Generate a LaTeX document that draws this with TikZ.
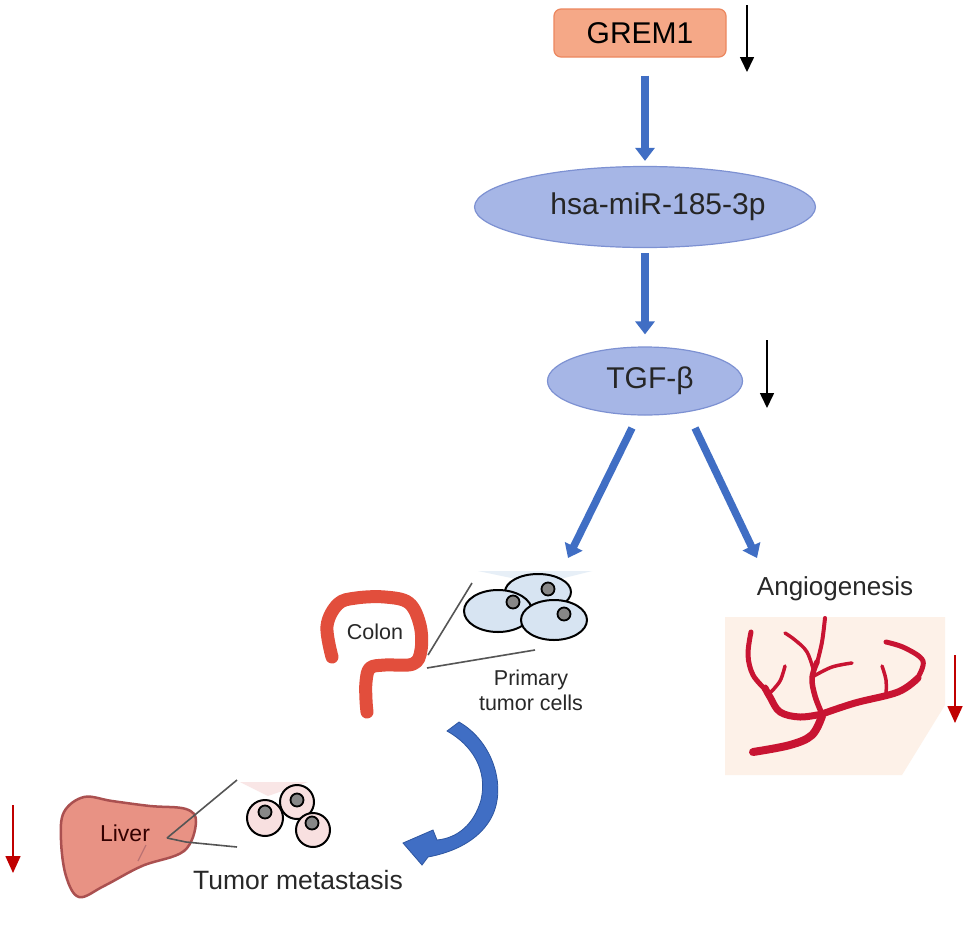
\documentclass[tikz,border=0pt]{standalone}
\usepackage{fontspec}
\setmainfont{Liberation Sans}
\usetikzlibrary{arrows.meta,shapes.geometric,calc}
\definecolor{boxfill}{RGB}{245,168,135}
\definecolor{boxdraw}{RGB}{236,135,95}
\definecolor{ellfill}{RGB}{166,182,230}
\definecolor{elldraw}{RGB}{125,145,210}
\definecolor{arrblue}{RGB}{64,110,196}
\definecolor{arrbluedark}{RGB}{45,85,160}
\definecolor{txt}{RGB}{40,40,40}
\definecolor{colonred}{RGB}{226,78,60}
\definecolor{liverfill}{RGB}{232,146,132}
\definecolor{liverdraw}{RGB}{170,80,80}
\definecolor{vessel}{RGB}{200,20,50}
\definecolor{peach}{RGB}{253,241,232}
\definecolor{downred}{RGB}{192,0,0}
\definecolor{cellblue}{RGB}{215,228,242}
\definecolor{cellpink}{RGB}{248,224,224}
\definecolor{nucleus}{RGB}{135,135,135}
\definecolor{zoomline}{RGB}{85,85,85}
\begin{document}
\begin{tikzpicture}[x=1pt,y=-1pt,
  bluearrow/.style={draw=arrblue,line width=7.5pt,-{Triangle[width=19pt,length=13pt]}},
  blackarrow/.style={draw=black,line width=1.6pt,-{Triangle[width=14pt,length=15pt]}},
  redarrow/.style={draw=downred,line width=1.6pt,-{Triangle[width=15pt,length=17pt]}},
  lbl/.style={text=txt,inner sep=0pt},
  cellb/.style={fill=cellblue,draw=black,line width=2pt},
  cellp/.style={fill=cellpink,draw=black,line width=2pt},
  nuc/.style={fill=nucleus,draw=black,line width=1.8pt},
  zl/.style={draw=zoomline,line width=1.6pt},
  vsl/.style={draw=vessel,line cap=round,line join=round}
]
\useasboundingbox (0,0) rectangle (969,926);
\fill[white] (0,0) rectangle (969,926);

% ---- pathway nodes
\node[draw=boxdraw,fill=boxfill,line width=1.2pt,rounded corners=7pt,minimum width=172pt,minimum height=48pt,inner sep=0pt,font=\fontsize{30}{36}\selectfont,text=black] (grem) at (640,33) {GREM1};
\node[ellipse,draw=elldraw,fill=ellfill,line width=1.2pt,minimum width=302pt,minimum height=81pt,inner sep=0pt,font=\fontsize{30}{36}\selectfont,text=black!85] (mir) at (645,207) {\hspace*{26pt}hsa-miR-185-3p};
\node[ellipse,draw=elldraw,fill=ellfill,line width=1.2pt,minimum width=195pt,minimum height=68pt,inner sep=0pt,font=\fontsize{30}{36}\selectfont,text=black!85] (tgf) at (645,381) {\hspace*{10pt}TGF-β};

\draw[bluearrow,shorten <=18pt,shorten >=5pt] (grem.south -| mir.north) -- (mir.north);
\draw[bluearrow,shorten <=5pt,shorten >=12pt] (mir.south) -- (tgf.north);

\coordinate (ls) at (632,428);
\coordinate (le) at (568,558);
\coordinate (rs) at (695,428);
\coordinate (re) at (757,558);
\draw[bluearrow] (ls) -- (le);
\draw[bluearrow] (rs) -- (re);

% black down arrows
\coordinate (b1s) at (747,5);
\coordinate (b1e) at (747,72);
\draw[blackarrow] (b1s) -- (b1e);
\coordinate (b2s) at (767,340);
\coordinate (b2e) at (767,408);
\draw[blackarrow] (b2s) -- (b2e);

% ---- colon
\fill[cellblue!60] (478,571) -- (592,571) -- (540,584) -- cycle;
\draw[colonred,line width=13pt,line cap=round,line join=round]
  plot[smooth,tension=0.6] coordinates {(332,657) (327,626) (338,604) (356,598) (385,597) (409,603) (420,625) (421,650) (413,664) (385,665) (370,668) (366,682) (366,700) (367,712)};
\draw[zl] (428,655) -- (472,583);
\draw[zl] (427,668) -- (535,650);
\draw[cellb] (538,592) ellipse [x radius=33pt,y radius=18pt];
\draw[cellb] (498,611) ellipse [x radius=34pt,y radius=21pt];
\draw[cellb] (554,620) ellipse [x radius=33pt,y radius=20pt];
\draw[nuc] (513,602) circle [radius=6.5pt];
\draw[nuc] (548,589) circle [radius=6.5pt];
\draw[nuc] (564,614) circle [radius=6.5pt];
\node[lbl,font=\fontsize{21.5}{25}\selectfont] (colon) at (375,632) {Colon};
\node[lbl,font=\fontsize{21.5}{25}\selectfont,align=center] (primary) at (531,690) {Primary\\tumor cells};

% ---- curved arrow
\fill[arrblue,draw=arrbluedark,line width=0.8pt]
  (447,731) -- (459,722)
  .. controls (494,742) and (508,790) .. (490,820)
  .. controls (478,840) and (455,852) .. (428,857)
  -- (422,865) -- (403,843) -- (433,830) -- (437,840)
  .. controls (458,838) and (474,824) .. (481,800)
  .. controls (488,770) and (472,745) .. (447,731) -- cycle;

% ---- liver
\fill[cellpink!80] (240,782) -- (308,782) -- (268,796) -- cycle;
\filldraw[fill=liverfill,draw=liverdraw,line width=2.5pt]
  plot[smooth cycle,tension=0.6] coordinates {(64,812) (84,797) (112,801) (150,806) (186,809) (196,822) (184,851) (142,866) (104,886) (79,897) (66,876) (61,840)};
\draw[liverdraw!80,line width=1.2pt] (146,845) -- (138,861);
\draw[zl] (167,838) -- (237,780);
\draw[zl] (167,838) -- (186,842) -- (237,847);
\draw[cellp] (265,818) circle [radius=18pt];
\draw[cellp] (297,802) circle [radius=17pt];
\draw[cellp] (313,830) circle [radius=17pt];
\draw[nuc] (265,812) circle [radius=6.5pt];
\draw[nuc] (297,800) circle [radius=6.5pt];
\draw[nuc] (312,823) circle [radius=6.5pt];
\node[lbl,font=\fontsize{23}{27}\selectfont,text=black!80!red] (liver) at (125,833) {Liver};
\node[lbl,font=\fontsize{26.5}{30}\selectfont] (meta) at (298,880) {Tumor metastasis};
\coordinate (r1s) at (13,805);
\coordinate (r1e) at (13,873);
\draw[redarrow] (r1s) -- (r1e);

% ---- angiogenesis
\node[lbl,font=\fontsize{26}{30}\selectfont] (angio) at (835,589) {Angiogenesis};
\fill[peach] (725,617) -- (945,617) -- (945,705) -- (902,775) -- (725,775) -- cycle;
\draw[vsl,line width=8pt] plot[smooth,tension=0.6] coordinates {(753,752) (790,745) (812,735) (822,716)};
\draw[vsl,line width=7pt] plot[smooth,tension=0.6] coordinates {(822,714) (800,717) (780,712) (770,697) (765,688)};
\draw[vsl,line width=5pt] plot[smooth,tension=0.6] coordinates {(766,690) (753,675) (748,655) (751,632)};
\draw[vsl,line width=3.5pt] plot[smooth,tension=0.6] coordinates {(770,693) (780,681) (785,666)};
\draw[vsl,line width=7pt] plot[smooth,tension=0.6] coordinates {(822,714) (855,703) (898,692) (918,678)};
\draw[vsl,line width=5pt] plot[smooth,tension=0.6] coordinates {(917,679) (923,661) (905,648) (886,642)};
\draw[vsl,line width=3.5pt] plot[smooth,tension=0.6] coordinates {(886,695) (886,680) (882,666)};
\draw[vsl,line width=5.5pt] plot[smooth,tension=0.6] coordinates {(822,714) (815,696) (812,678) (817,662)};
\draw[vsl,line width=4pt] plot[smooth,tension=0.6] coordinates {(817,663) (822,642) (825,618)};
\draw[vsl,line width=3.5pt] plot[smooth,tension=0.6] coordinates {(814,672) (807,652) (795,640) (785,633)};
\draw[vsl,line width=3.5pt] plot[smooth,tension=0.6] coordinates {(814,676) (832,667) (852,663)};
\coordinate (r2s) at (955,655);
\coordinate (r2e) at (955,723);
\draw[redarrow] (r2s) -- (r2e);
\end{tikzpicture}
\end{document}
